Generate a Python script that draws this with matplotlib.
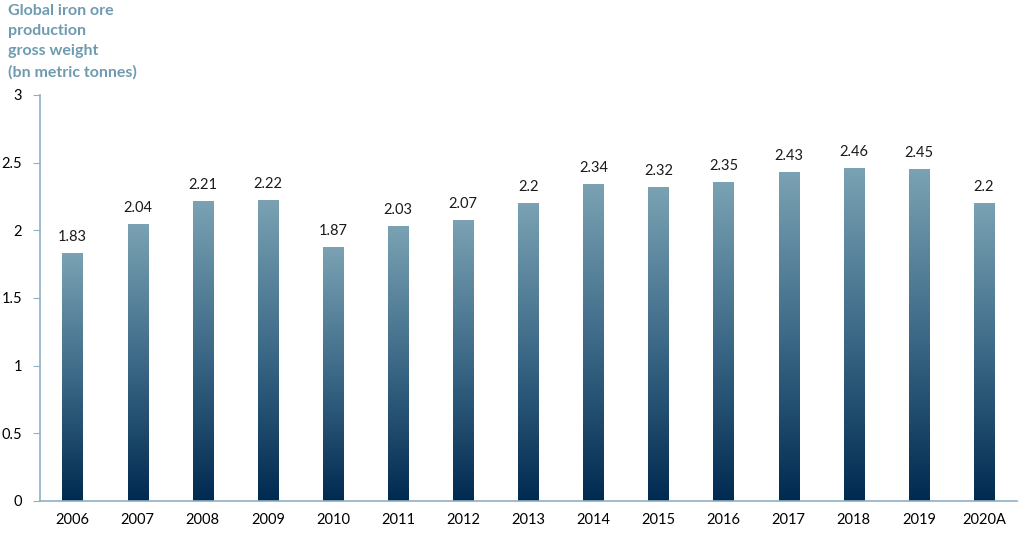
import matplotlib.pyplot as plt
import numpy as np
from matplotlib.colors import LinearSegmentedColormap

years = ['2006', '2007', '2008', '2009', '2010', '2011', '2012', '2013',
         '2014', '2015', '2016', '2017', '2018', '2019', '2020A']
production = [1.83, 2.04, 2.21, 2.22, 1.87, 2.03, 2.07, 2.2,
              2.34, 2.32, 2.35, 2.43, 2.46, 2.45, 2.2]
labels = ['1.83', '2.04', '2.21', '2.22', '1.87', '2.03', '2.07', '2.2',
          '2.34', '2.32', '2.35', '2.43', '2.46', '2.45', '2.2']

plt.rcParams['font.family'] = ['Lato', 'DejaVu Sans']

fig = plt.figure(figsize=(10.24, 5.36), dpi=100)
ax = fig.add_axes([0.039, 0.0653, 0.9537, 0.7575])

cmap = LinearSegmentedColormap.from_list('bar', ['#002a50', '#3c6987', '#7aa2b3'])
grad = np.linspace(0, 1, 256).reshape(-1, 1)

x = np.arange(len(years))
w = 0.31
bars = ax.bar(x, production, width=w, color='none')
for b, lab in zip(bars, labels):
    x0, h = b.get_x(), b.get_height()
    ax.imshow(grad, extent=[x0, x0 + w, 0, h], origin='lower', aspect='auto',
              cmap=cmap, zorder=2)
    ax.text(x0 + w / 2, h + 0.07, lab, ha='center', va='bottom', fontsize=10.5,
            color='#1a1a1a')

ax.set_xlim(-0.5, len(years) - 0.5)
ax.set_ylim(0, 3)
ax.set_yticks([0, 0.5, 1, 1.5, 2, 2.5, 3])
ax.set_yticklabels(['0', '0.5', '1', '1.5', '2', '2.5', '3'])
ax.set_xticks(x)
ax.set_xticklabels(years)
ax.tick_params(axis='y', length=5, color='#8fb0c4', labelsize=10.5, pad=8)
ax.tick_params(axis='x', length=0, labelsize=10.5, pad=9)
for s in ['top', 'right']:
    ax.spines[s].set_visible(False)
for s in ['left', 'bottom']:
    ax.spines[s].set_color('#8fb0c4')
    ax.spines[s].set_linewidth(1.2)

fig.text(0.008, 0.992, 'Global iron ore\nproduction\ngross weight\n(bn metric tonnes)',
         ha='left', va='top', fontsize=11.5, fontweight='bold', color='#6f9bb0',
         linespacing=1.55)

fig.savefig('out.png', dpi=100)
